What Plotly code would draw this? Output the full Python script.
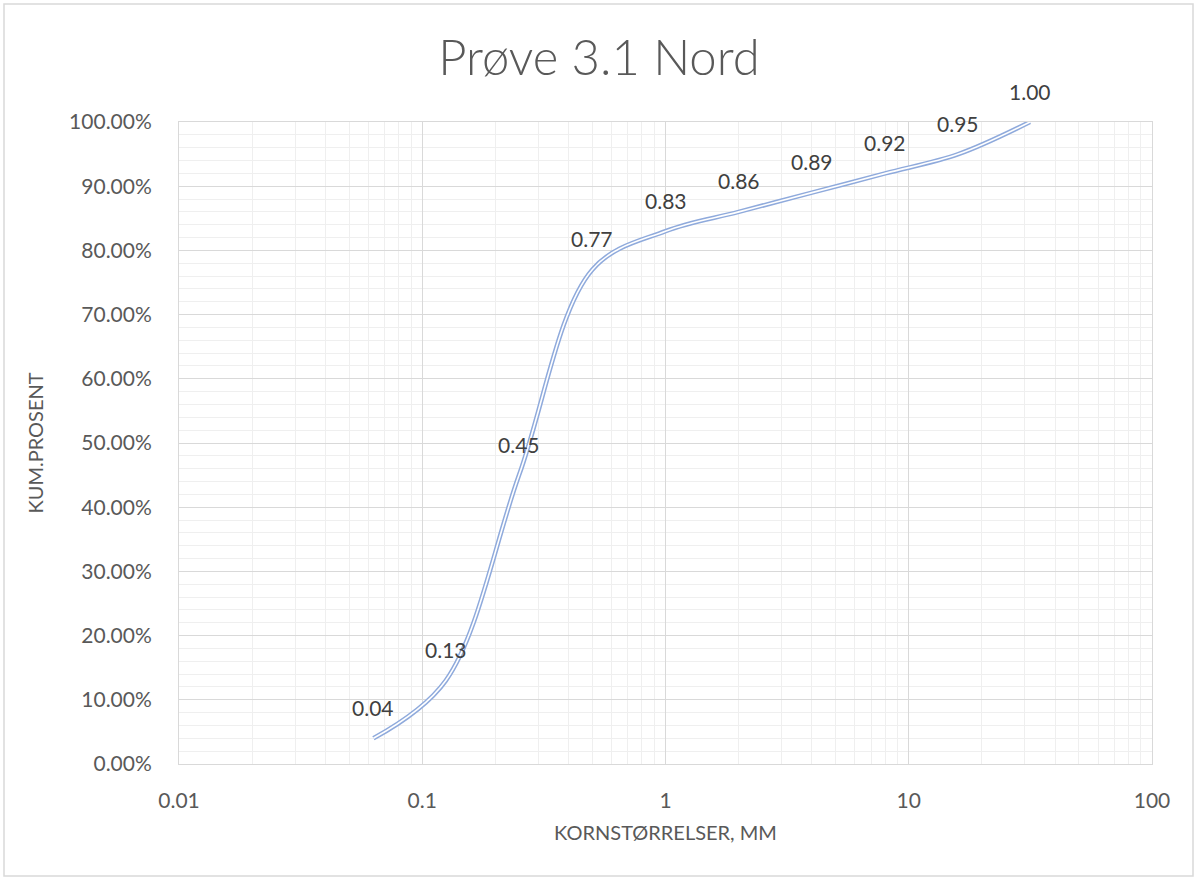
import numpy as np
import plotly.graph_objects as go

# Sieve analysis: grain size (mm) vs cumulative passing fraction
grain_size_mm = [0.063, 0.125, 0.25, 0.5, 1, 2, 4, 8, 16, 31.5]
cum_fraction = [0.04, 0.13, 0.45, 0.77, 0.83, 0.86, 0.89, 0.92, 0.95, 1.00]

x_tick_vals = [0.01, 0.1, 1, 10, 100]
x_tick_text = ["0.01", "0.1", "1", "10", "100"]

title_text = "Prøve 3.1 Nord"
x_title = "KORNSTØRRELSER, MM"
y_title = "KUM.PROSENT"

FONT = "Lato, 'Open Sans', sans-serif"
LINE_BLUE = "#8faadc"
GRID_MAJOR = "#d9d9d9"
GRID_MINOR = "#efefef"
TEXT_GREY = "#595959"

# minor gridlines at 2..9 within each decade
minor_vals = [k * 10.0 ** e for e in range(-2, 2) for k in range(2, 10)]

fig = go.Figure()

# double-line look: wide blue stroke with a thin white core
fig.add_trace(go.Scatter(
    x=grain_size_mm, y=cum_fraction, mode="lines",
    line=dict(color=LINE_BLUE, width=4.6, shape="spline", smoothing=1.0),
    hoverinfo="skip", showlegend=False,
))
fig.add_trace(go.Scatter(
    x=grain_size_mm, y=cum_fraction, mode="lines",
    line=dict(color="white", width=1.6, shape="spline", smoothing=1.0),
    showlegend=False,
))

# data labels above each point
for xv, yv in zip(grain_size_mm, cum_fraction):
    fig.add_annotation(
        x=np.log10(xv), y=yv, text=f"{yv:.2f}", showarrow=False,
        yshift=31, font=dict(family=FONT, size=21, color="#404040"),
    )

W, H = 1198, 880
L, R, T, B = 179, 46, 122, 116
pw, ph = W - L - R, H - T - B

# outer chart frame
fig.add_shape(
    type="rect", xref="paper", yref="paper", layer="below",
    x0=(4 - L) / pw, x1=(W - 5 - L) / pw,
    y0=(H - B - 876) / ph, y1=(H - B - 4) / ph,
    line=dict(color="#d9d9d9", width=1.5), fillcolor="rgba(0,0,0,0)",
)

fig.update_layout(
    width=W, height=H,
    margin=dict(l=L, r=R, t=T, b=B),
    paper_bgcolor="white", plot_bgcolor="white",
    title=dict(
        text=title_text, x=0.5, xref="container", xanchor="center",
        y=1 - 58 / H, yref="container", yanchor="middle",
        font=dict(family=FONT, size=49, color=TEXT_GREY, weight=300),
    ),
    font=dict(family=FONT, color=TEXT_GREY),
)

fig.update_xaxes(
    type="log", range=[-2, 2],
    tickmode="array", tickvals=x_tick_vals, ticktext=x_tick_text,
    tickfont=dict(family=FONT, size=21, color=TEXT_GREY),
    showgrid=True, gridcolor=GRID_MAJOR, gridwidth=1,
    minor=dict(tickmode="array", tickvals=minor_vals, showgrid=True,
               gridcolor=GRID_MINOR, gridwidth=1),
    showline=True, linecolor=GRID_MAJOR, linewidth=1, mirror=True,
    ticks="", ticklabelstandoff=18, zeroline=False,
    title=dict(text=x_title, standoff=14,
               font=dict(family=FONT, size=20, color=TEXT_GREY)),
)
fig.update_yaxes(
    range=[0, 1], tickmode="linear", tick0=0, dtick=0.1, tickformat=".2%",
    tickfont=dict(family=FONT, size=21, color=TEXT_GREY),
    showgrid=True, gridcolor=GRID_MAJOR, gridwidth=1,
    minor=dict(dtick=0.02, showgrid=True, gridcolor=GRID_MINOR, gridwidth=1),
    showline=True, linecolor=GRID_MAJOR, linewidth=1, mirror=True,
    ticks="", ticklabelstandoff=22, zeroline=False,
    title=dict(text=y_title, standoff=20,
               font=dict(family=FONT, size=20, color=TEXT_GREY)),
)

fig.write_html("out.html")
